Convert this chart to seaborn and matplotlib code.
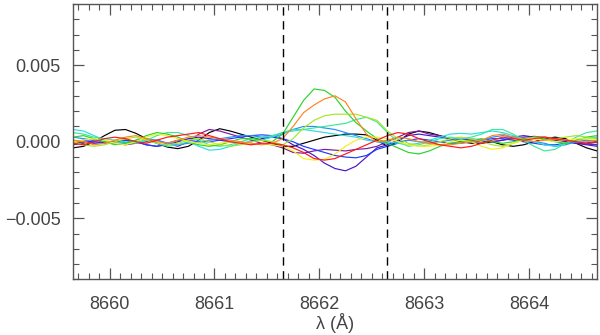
import numpy as np
import pandas as pd
import matplotlib
matplotlib.use("Agg")
import matplotlib.pyplot as plt
from matplotlib.ticker import MultipleLocator, FuncFormatter
import seaborn as sns

# wavelength grid (Angstrom), 0.1 A steps across the window
wave = np.round(np.arange(8659.65, 8664.70, 0.1), 2)

# residual profiles in units of 1e-3
black = [-0.4, -0.3, 0.0, 0.4, 0.75, 0.8, 0.55, 0.2, -0.1, -0.35,
         -0.45, -0.3, 0.1, 0.6, 0.85, 0.7, 0.5, 0.3, 0.1, -0.1,
         -0.3, -0.3, -0.1, 0.1, 0.3, 0.4, 0.5, 0.5, 0.45, 0.1,
         -0.3, 0.0, 0.5, 0.7, 0.6, 0.4, 0.2, 0.0, -0.1, -0.1,
         0.0, -0.2, -0.3, -0.2, 0.0, 0.2, 0.3, 0.2, -0.1, -0.4, -0.6]
purple = [-0.2, -0.1, 0.1, 0.0, -0.1, -0.2, -0.1, 0.0, 0.1, -0.1,
          -0.3, 0.0, 0.5, 0.8, 0.7, 0.5, 0.3, 0.1, -0.1, -0.2,
          -0.4, -0.7, -0.75, -0.6, -0.5, -0.55, -0.6, -0.5, -0.45, -0.3,
          0.0, 0.3, 0.6, 0.7, 0.5, 0.4, 0.2, 0.1, 0.0, 0.0,
          0.0, 0.1, 0.2, 0.3, 0.35, 0.3, 0.2, 0.0, -0.1, -0.2, -0.3]
indigo = [0.1, 0.0, -0.1, -0.05, 0.0, 0.1, 0.0, -0.2, -0.3, -0.2,
          0.0, 0.2, 0.3, 0.2, 0.1, 0.0, -0.1, 0.0, 0.2, 0.3,
          0.2, -0.2, -0.5, -0.9, -1.4, -1.75, -1.9, -1.6, -1.0, -0.4,
          -0.2, 0.1, 0.4, 0.5, 0.4, 0.3, 0.2, 0.2, 0.1, 0.0,
          0.0, 0.1, 0.3, 0.4, 0.3, 0.2, 0.1, 0.0, -0.1, -0.15, -0.2]
blue = [0.0, 0.1, 0.0, -0.1, 0.0, 0.1, 0.0, -0.2, -0.3, -0.1,
        0.1, 0.1, 0.0, 0.0, 0.1, 0.2, 0.3, 0.4, 0.45, 0.4,
        0.2, 0.0, -0.3, -0.5, -0.7, -0.9, -1.0, -1.05, -0.9, -0.5,
        -0.3, -0.1, 0.1, 0.2, 0.1, 0.0, -0.1, -0.1, 0.0, 0.1,
        0.2, 0.2, 0.1, 0.0, -0.1, -0.2, -0.2, -0.1, 0.0, -0.1, -0.2]
dodger = [0.3, 0.2, 0.1, 0.0, -0.1, -0.05, 0.1, 0.2, 0.1, -0.1,
          -0.2, -0.1, 0.0, 0.1, 0.2, 0.3, 0.4, 0.4, 0.3, 0.3,
          0.5, 0.8, 1.0, 1.0, 0.9, 0.8, 0.6, 0.4, 0.2, 0.0,
          -0.1, 0.0, 0.1, 0.0, -0.1, 0.0, 0.1, 0.2, 0.2, 0.1,
          0.3, 0.4, 0.3, 0.1, 0.0, -0.1, -0.3, -0.2, 0.0, 0.1, 0.0]
cyan = [0.8, 0.7, 0.4, 0.1, -0.1, -0.1, 0.0, 0.1, -0.1, -0.3,
        -0.2, 0.0, -0.3, -0.55, -0.5, -0.3, -0.1, 0.0, 0.1, 0.3,
        0.6, 0.8, 0.8, 0.7, 0.6, 0.5, 0.4, 0.3, 0.1, 0.0,
        0.0, -0.1, -0.2, -0.1, 0.1, 0.3, 0.5, 0.55, 0.5, 0.6,
        0.7, 0.6, 0.4, 0.2, 0.0, -0.2, -0.3, -0.1, 0.1, 0.2, 0.3]
aqua = [0.6, 0.5, 0.3, 0.2, 0.1, 0.0, -0.1, 0.1, 0.4, 0.6,
        0.6, 0.4, 0.1, -0.2, -0.3, -0.2, 0.0, 0.2, 0.3, 0.4,
        0.6, 0.7, 0.8, 0.9, 1.0, 1.1, 1.2, 1.45, 1.6, 1.3,
        0.6, 0.0, -0.3, -0.2, 0.0, 0.2, 0.3, 0.2, 0.3, 0.5,
        0.8, 0.8, 0.5, 0.1, -0.3, -0.6, -0.5, -0.1, 0.3, 0.6, 0.7]
green = [0.3, 0.4, 0.2, 0.0, -0.2, -0.1, 0.1, 0.4, 0.6, 0.5,
         0.3, 0.0, -0.2, -0.3, -0.2, 0.0, 0.2, 0.2, 0.1, 0.0,
         0.5, 1.6, 2.7, 3.45, 3.35, 2.9, 2.0, 1.25, 0.7, 0.2,
         -0.1, -0.4, -0.7, -0.8, -0.6, -0.3, -0.1, 0.0, 0.1, 0.2,
         0.0, -0.1, 0.0, 0.2, 0.3, 0.2, 0.0, -0.1, 0.1, 0.3, 0.4]
lime = [0.0, -0.2, -0.3, -0.2, 0.0, 0.2, 0.3, 0.1, -0.1, -0.2,
        -0.1, 0.1, 0.2, 0.0, -0.2, -0.3, -0.2, 0.0, 0.1, 0.0,
        -0.2, 0.2, 0.9, 1.4, 1.7, 1.8, 1.8, 1.8, 1.6, 1.4,
        0.7, 0.2, -0.1, -0.3, -0.2, 0.0, 0.2, 0.3, 0.2, 0.0,
        -0.2, -0.3, -0.1, 0.1, 0.3, 0.3, 0.2, 0.3, 0.4, 0.3, 0.2]
yellow = [0.0, 0.1, 0.2, 0.1, -0.1, -0.2, 0.0, 0.3, 0.5, 0.4,
          0.2, 0.0, -0.1, -0.2, -0.1, 0.0, -0.1, -0.2, -0.1, -0.2,
          -0.3, -0.6, -1.1, -1.2, -1.15, -0.8, -0.3, 0.1, 0.3, 0.3,
          0.2, 0.0, -0.2, -0.3, -0.3, -0.2, 0.0, 0.1, 0.0, -0.3,
          -0.5, -0.4, -0.1, 0.1, 0.2, 0.1, 0.0, 0.1, 0.2, 0.2, 0.1]
orange = [0.1, 0.0, -0.2, -0.1, 0.1, 0.3, 0.4, 0.2, 0.0, -0.1,
          0.1, 0.3, 0.4, 0.3, 0.2, 0.1, 0.0, -0.1, -0.2, -0.1,
          0.2, 1.0, 1.9, 2.4, 2.8, 3.0, 2.6, 1.5, 0.5, 0.0,
          0.1, 0.3, 0.2, 0.0, -0.1, -0.2, -0.2, -0.1, 0.0, 0.1,
          0.4, 0.5, 0.3, 0.1, 0.0, 0.1, 0.2, 0.1, 0.0, 0.0, 0.1]
red = [-0.1, -0.2, 0.0, 0.2, 0.3, 0.2, 0.0, -0.1, 0.1, 0.3,
       0.4, 0.5, 0.6, 0.4, 0.2, 0.0, -0.1, -0.2, -0.1, -0.1,
       -0.2, -0.4, -0.7, -1.1, -1.2, -1.1, -0.8, -0.5, -0.2, 0.1,
       0.4, 0.6, 0.5, 0.2, 0.0, -0.2, -0.3, -0.4, -0.3, -0.1,
       0.1, 0.3, 0.2, 0.1, 0.2, 0.3, 0.2, 0.1, 0.0, -0.1, 0.0]

names = ["black", "purple", "indigo", "blue", "dodger", "cyan",
         "aqua", "green", "lime", "yellow", "orange", "red"]
series = [black, purple, indigo, blue, dodger, cyan,
          aqua, green, lime, yellow, orange, red]
colors = ["#000000", "#7a1aa0", "#4a14c8", "#1a3cff", "#2a8cff", "#30dcdc",
          "#3ae89a", "#2ad42a", "#a6e62a", "#f2f020", "#ff8420", "#ff1a1a"]

# band limits (dashed lines)
band = [8661.65, 8662.65]

rows = []
for n, s in zip(names, series):
    for w, v in zip(wave, s):
        rows.append((n, w, v * 1e-3))
df = pd.DataFrame(rows, columns=["star", "wave", "resid"])

sns.set_style("ticks")
plt.rcParams["font.family"] = ["Liberation Sans", "DejaVu Sans"]

fig = plt.figure(figsize=(6.0, 3.35), dpi=100)
ax = fig.add_axes([0.1217, 0.1657, 0.8733, 0.8224])

sns.lineplot(data=df, x="wave", y="resid", hue="star", hue_order=names,
             palette=colors, linewidth=0.85, legend=False, ax=ax,
             estimator=None, sort=False)

for b in band:
    ax.axvline(b, color="black", linewidth=1.0, dashes=(6, 4))

ax.set_xlim(8659.65, 8664.65)
ax.set_ylim(-0.009, 0.009)
ax.xaxis.set_major_locator(MultipleLocator(1))
ax.xaxis.set_minor_locator(MultipleLocator(0.1))
ax.yaxis.set_major_locator(MultipleLocator(0.005))
ax.yaxis.set_minor_locator(MultipleLocator(0.001))
ax.xaxis.set_major_formatter(FuncFormatter(lambda v, p: f"{v:.0f}"))
ax.yaxis.set_major_formatter(FuncFormatter(lambda v, p: f"{v:.3f}".replace("-", "\u2212")))

txt = "#444444"
ax.tick_params(which="both", direction="in", top=True, right=True,
               colors="#555555", labelcolor=txt, labelsize=13)
ax.tick_params(which="major", length=8, width=0.9)
ax.tick_params(axis="x", which="major", pad=12)
ax.tick_params(axis="y", which="major", pad=9)
ax.tick_params(which="minor", length=4, width=0.8)
for sp in ax.spines.values():
    sp.set_color("#555555")
    sp.set_linewidth(1.0)

ax.set_xlabel("λ (Å)", fontsize=13, color=txt, labelpad=0)
ax.set_ylabel("")

fig.savefig("out.png", dpi=100)
